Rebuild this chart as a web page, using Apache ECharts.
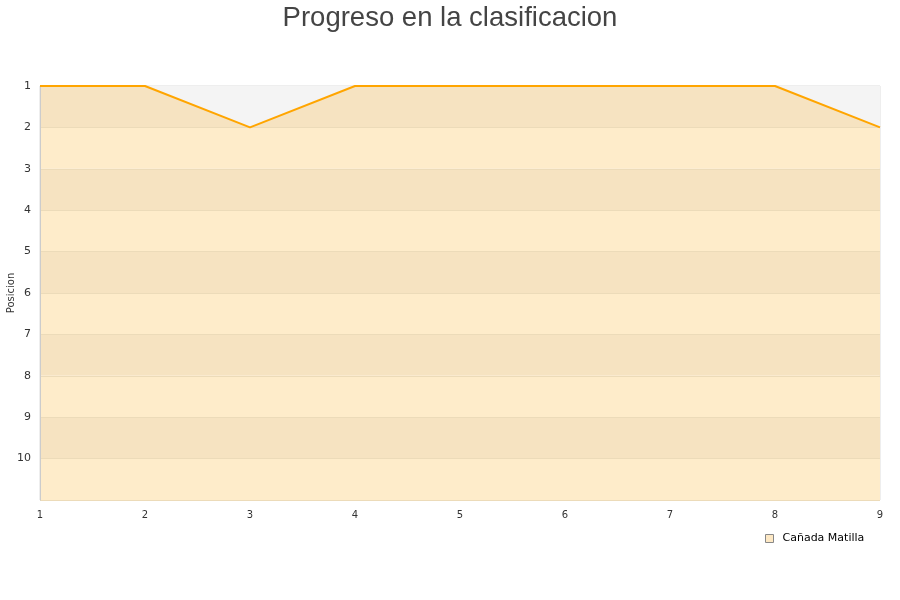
<!DOCTYPE html>
<html><head><meta charset="utf-8">
<script src="https://cdn.jsdelivr.net/npm/echarts@6/dist/echarts.min.js"></script>
<style>html,body{margin:0;padding:0;background:#fff}#c{width:900px;height:600px}</style>
</head><body><div id="c"></div>
<script>
const titleText = 'Progreso en la clasificacion';
const seriesName = 'Cañada Matilla';
const jornadas = [1, 2, 3, 4, 5, 6, 7, 8, 9];
const posiciones = [1, 1, 2, 1, 1, 1, 1, 1, 2];
const yName = 'Posicion';

const chart = echarts.init(document.getElementById('c'));
chart.setOption({
  animation: false,
  title: {
    text: titleText, left: 'center', top: -1,
    textStyle: { fontFamily: 'Liberation Sans, Arial, sans-serif', fontSize: 27.5, fontWeight: 'normal', color: '#444' }
  },
  legend: {
    data: [seriesName], left: 760, top: 528, icon: 'rect', itemWidth: 8, itemHeight: 8,
    itemGap: 6, padding: [5, 5],
    textStyle: { fontFamily: 'DejaVu Sans, sans-serif', fontSize: 11, color: '#000', padding: [0, 0, 0, 4] },
    itemStyle: { color: '#fde8c4', borderColor: '#888', borderWidth: 1 }
  },
  grid: { left: 40, right: 20, top: 86, bottom: 100, outerBoundsMode: 'none', containLabel: false,
    show: true, borderColor: '#ddd', borderWidth: 1, backgroundColor: 'transparent' },
  xAxis: {
    type: 'value', min: 1, max: 9, interval: 1,
    axisLine: { show: false }, axisTick: { show: false }, splitLine: { show: false },
    axisLabel: { fontFamily: 'DejaVu Sans, sans-serif', fontSize: 10, color: '#333', margin: 10 }
  },
  yAxis: {
    type: 'value', inverse: true, min: 1, max: 11, interval: 1,
    name: yName, nameLocation: 'middle', nameGap: 24, nameMoveOverlap: false,
    nameTextStyle: { fontFamily: 'DejaVu Sans, sans-serif', fontSize: 10, color: '#333' },
    axisLine: { show: true, lineStyle: { color: '#ccc' } }, axisTick: { show: false },
    axisLabel: { fontFamily: 'DejaVu Sans, sans-serif', fontSize: 11, color: '#333', margin: 9,
      formatter: v => (v <= 10 ? String(v) : '') },
    splitLine: { show: true, lineStyle: { color: '#ecdbb9', width: 1 } },
    splitArea: { show: true, areaStyle: { color: ['#f6e3c1', '#feecca'] } }
  },
  series: [{
    name: seriesName, type: 'line',
    data: jornadas.map((j, i) => [j, posiciones[i]]),
    symbol: 'none',
    lineStyle: { color: '#ffa500', width: 2 },
    itemStyle: { color: '#fde8c4' },
    areaStyle: { origin: 'start', color: '#f4f4f4', opacity: 1 }
  }]
});
</script></body></html>
